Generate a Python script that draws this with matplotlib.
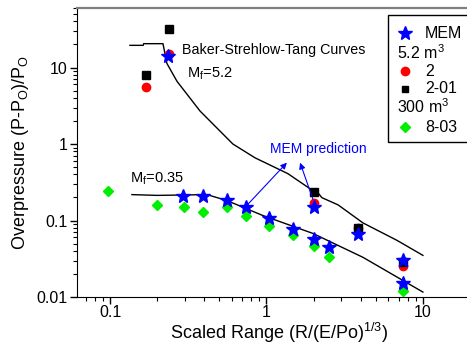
import numpy as np
import matplotlib
matplotlib.use('Agg')
import matplotlib.pyplot as plt
from matplotlib.ticker import LogLocator, FuncFormatter, NullFormatter
from matplotlib.patches import Rectangle

plt.rcParams['font.family'] = ['Liberation Sans', 'DejaVu Sans']
plt.rcParams['mathtext.fontset'] = 'custom'
plt.rcParams['mathtext.rm'] = 'Liberation Sans'

# Baker-Strehlow-Tang curves
bst52_x = [0.134, 0.163, 0.164, 0.218, 0.231, 0.268, 0.376, 0.61, 0.845, 1.37, 1.90, 2.13, 2.26, 2.87, 4.14, 6.83, 10.0]
bst52_y = [19.5, 19.5, 20.5, 20.5, 11.3, 6.6, 2.7, 1.0, 0.66, 0.41, 0.26, 0.231, 0.199, 0.16, 0.093, 0.055, 0.035]
bst035_x = [0.138, 0.2, 0.417, 0.56, 0.95, 1.98, 4.14, 10.0]
bst035_y = [0.218, 0.213, 0.218, 0.182, 0.116, 0.0678, 0.033, 0.0116]

# MEM prediction
mem_x = [0.235, 0.292, 0.393, 0.56, 0.74, 1.04, 1.48, 2.01, 2.51, 2.01, 3.85, 7.45, 7.45]
mem_y = [14.0, 0.211, 0.211, 0.187, 0.152, 0.109, 0.0764, 0.0566, 0.0446, 0.152, 0.0658, 0.0302, 0.0152]

# 5.2 m3 tests
t2_x = [0.17, 0.238, 2.01, 3.85, 7.45]
t2_y = [5.5, 14.8, 0.171, 0.081, 0.0253]
t201_x = [0.17, 0.238, 2.01, 3.85, 7.45]
t201_y = [8.1, 32.0, 0.238, 0.0787, 0.0285]

# 300 m3 test
t803_x = [0.097, 0.2, 0.297, 0.393, 0.56, 0.74, 1.04, 1.48, 2.01, 2.51, 7.45]
t803_y = [0.245, 0.161, 0.152, 0.131, 0.148, 0.116, 0.086, 0.0638, 0.0459, 0.033, 0.012]

fig = plt.figure(figsize=(4.67, 3.44), dpi=100)
ax = fig.add_axes([77/467, 47/344, 393/467, 289/344])

ax.plot(bst52_x, bst52_y, color='black', lw=1.0)
ax.plot(bst035_x, bst035_y, color='black', lw=1.0)
ax.plot(t803_x, t803_y, 'D', color='#00ee00', ms=5.5, mec='#00ee00')
ax.plot(t2_x, t2_y, 'o', color='red', ms=6)
ax.plot(t201_x, t201_y, 's', color='black', ms=5.5)
ax.plot(mem_x, mem_y, '*', color='blue', ms=10)

ax.set_xscale('log')
ax.set_yscale('log')
ax.set_xlim(0.0615, 20)
ax.set_ylim(0.01, 60)

fmt = FuncFormatter(lambda v, p: '%g' % v)
ax.xaxis.set_major_locator(LogLocator(base=10))
ax.yaxis.set_major_locator(LogLocator(base=10))
ax.xaxis.set_major_formatter(fmt)
ax.yaxis.set_major_formatter(fmt)
ax.xaxis.set_minor_formatter(NullFormatter())
ax.yaxis.set_minor_formatter(NullFormatter())
ax.tick_params(which='major', direction='out', length=5, width=1, labelsize=11.5, pad=2)
ax.tick_params(axis='x', which='major', pad=1)
ax.tick_params(which='minor', direction='out', length=3, width=0.8)
ax.tick_params(top=False, right=False)

ax.spines['right'].set_visible(False)
ax.spines['top'].set_color('#808080')
ax.spines['top'].set_linewidth(1.6)

ax.set_xlabel('Scaled Range (R/(E/Po)$^\\mathregular{1/3}$)', fontsize=13)
ax.xaxis.set_label_coords((279 - 77) / 393, -0.084)
ax.set_ylabel('Overpressure (P-P$_\\mathregular{O}$)/P$_\\mathregular{O}$', fontsize=13, labelpad=4)

ax.text(0.288, 17.1, 'Baker-Strehlow-Tang Curves', fontsize=10.3, va='center', ha='left')
ax.text(0.31, 8.4, 'M$_\\mathregular{f}$=5.2', fontsize=10.5, va='center', ha='left')
ax.text(0.134, 0.35, 'M$_\\mathregular{f}$=0.35', fontsize=10.5, va='center', ha='left')
ax.text(2.13, 0.86, 'MEM prediction', fontsize=10, color='blue', va='center', ha='center')

arrow = dict(arrowstyle='-|>', color='blue', lw=0.8, mutation_scale=9, shrinkA=0, shrinkB=0)
ax.annotate('', xy=(1.35, 0.57), xytext=(0.75, 0.158), arrowprops=arrow)
ax.annotate('', xy=(1.64, 0.57), xytext=(1.98, 0.19), arrowprops=arrow)

# legend box drawn by hand
tr = ax.transAxes
ax.add_patch(Rectangle((0.791, 0.536), 0.3, 0.44, transform=tr, fill=False,
                       edgecolor='black', lw=1.0, clip_on=False))
rows = [('*', 'blue', 10, 'MEM', 0.913),
        ('o', 'red', 6, '2', 0.782),
        ('s', 'black', 5, '2-01', 0.720),
        ('D', '#00ee00', 5, '8-03', 0.588)]
for mk, c, ms, lab, yy in rows:
    ax.plot([0.835], [yy], mk, color=c, ms=ms, mec=c, transform=tr, clip_on=False)
    ax.text(0.885, yy, lab, fontsize=11.5, va='center', ha='left', transform=tr)
ax.text(0.814, 0.844, '5.2 m$^\\mathregular{3}$', fontsize=11.5, va='center', ha='left', transform=tr)
ax.text(0.814, 0.657, '300 m$^\\mathregular{3}$', fontsize=11.5, va='center', ha='left', transform=tr)

fig.savefig('out.png', dpi=100)
